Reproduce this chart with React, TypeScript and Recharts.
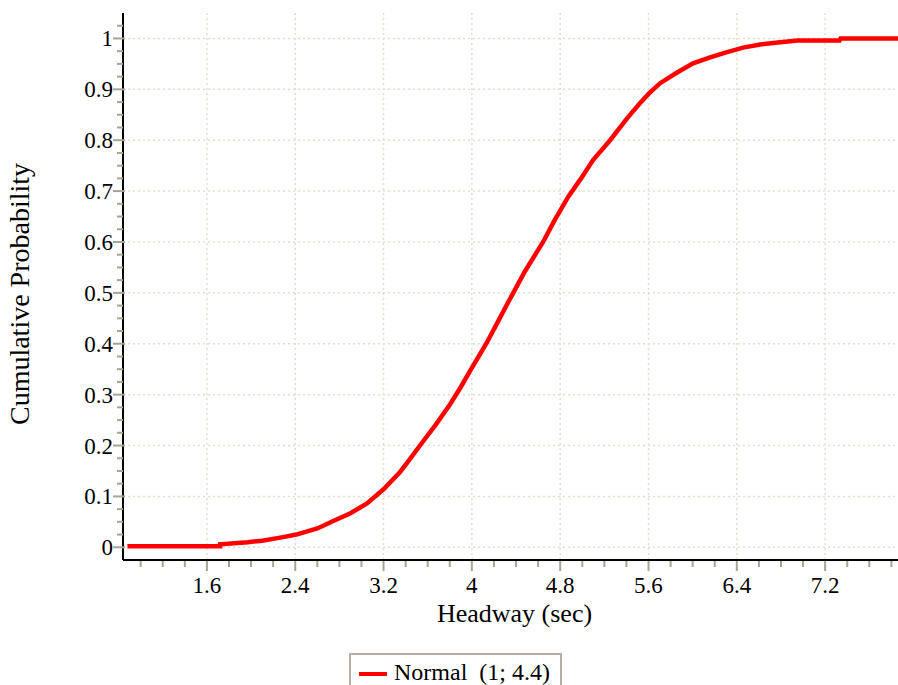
import { LineChart, Line, XAxis, YAxis, ReferenceLine, Legend, Label } from 'recharts';

const headway = [0.88, 1.72, 1.72, 1.97, 2.1, 2.29, 2.41, 2.6, 2.74, 2.9, 3.05, 3.2, 3.35, 3.42, 3.53, 3.67, 3.8, 3.9, 3.98, 4.13, 4.24, 4.33, 4.38, 4.48, 4.645, 4.75, 4.871, 4.98, 5.098, 5.252, 5.406, 5.524, 5.605, 5.705, 5.859, 6.004, 6.158, 6.312, 6.457, 6.611, 6.77, 6.95, 7.33, 7.34, 7.86];
const cumProb = [0.002, 0.002, 0.006, 0.01, 0.013, 0.02, 0.025, 0.037, 0.051, 0.067, 0.086, 0.114, 0.148, 0.168, 0.2, 0.24, 0.28, 0.315, 0.345, 0.4, 0.445, 0.482, 0.502, 0.542, 0.6, 0.643, 0.688, 0.722, 0.761, 0.8, 0.843, 0.873, 0.892, 0.912, 0.933, 0.951, 0.963, 0.973, 0.982, 0.988, 0.992, 0.996, 0.996, 1.0, 1.0];

const xMajor = [1.6, 2.4, 3.2, 4, 4.8, 5.6, 6.4, 7.2];
const xMinor = [1.0, 1.2, 1.4, 1.8, 2.0, 2.2, 2.6, 2.8, 3.0, 3.4, 3.6, 3.8, 4.2, 4.4, 4.6, 5.0, 5.2, 5.4, 5.8, 6.0, 6.2, 6.6, 6.8, 7.0, 7.4, 7.6, 7.8];
const yMajor = [0, 0.1, 0.2, 0.3, 0.4, 0.5, 0.6, 0.7, 0.8, 0.9, 1];
const yMinor = yMajor.flatMap((m) => [m + 0.025, m + 0.05, m + 0.075]).filter((v) => v < 1.04);

const seriesName = 'Normal  (1; 4.4)';

const data = headway.map((x, i) => ({ x, p: cumProb[i] }));

const FONT = '"Liberation Serif", "Times New Roman", serif';
const TICK_GRAY = '#a8a494';
const GRID = '#e2dece';

const isMajor = (list: number[], v: number) => list.some((m) => Math.abs(m - v) < 1e-6);

const XTick = (props: any) => {
  const { x, y, payload } = props;
  const major = isMajor(xMajor, payload.value);
  return (
    <g>
      <line x1={x} x2={x} y1={y + 1} y2={y + (major ? 11 : 7)} stroke={TICK_GRAY} strokeWidth={2} />
      {major && (
        <text x={x} y={y + 33} textAnchor="middle" fontSize={23} fontFamily={FONT} fill="#000">
          {String(payload.value)}
        </text>
      )}
    </g>
  );
};

const YTick = (props: any) => {
  const { x, y, payload } = props;
  const major = isMajor(yMajor, payload.value);
  return (
    <g>
      <line x1={x - (major ? 10 : 6)} x2={x + (major ? 2 : 0)} y1={y} y2={y} stroke={TICK_GRAY} strokeWidth={2} />
      {major && (
        <text x={x - 10} y={y + 8} textAnchor="end" fontSize={23} fontFamily={FONT} fill="#000">
          {String(Math.round(payload.value * 10) / 10)}
        </text>
      )}
    </g>
  );
};

const LegendBox = () => (
  <div
    style={{
      border: '2px solid #b4b0a4',
      background: '#fff',
      height: 40,
      boxSizing: 'border-box',
      display: 'flex',
      alignItems: 'flex-start',
      paddingLeft: 8,
      paddingTop: 4,
      fontFamily: FONT,
      fontSize: 24,
      whiteSpace: 'pre',
    }}
  >
    <span style={{ display: 'inline-block', width: 28, height: 4, background: '#ff0000', marginTop: 13, marginRight: 7 }} />
    <span>{seriesName}</span>
  </div>
);

export default function App() {
  return (
    <div style={{ position: 'absolute', left: 0, top: 0 }}>
      <LineChart width={898} height={685} data={data} margin={{ top: 13, right: 0, left: 0, bottom: 65 }}>
        <XAxis
          type="number"
          dataKey="x"
          domain={[0.84, 7.86]}
          ticks={[...xMajor, ...xMinor].sort((a, b) => a - b)}
          interval={0}
          tickSize={0}
          tickMargin={0}
          tickLine={false}
          tick={<XTick />}
          height={60}
          axisLine={{ stroke: '#000', strokeWidth: 2 }}
          allowDataOverflow
        >
          <Label
            content={({ viewBox }: any) => (
              <text x={viewBox.x + viewBox.width / 2 + 4} y={viewBox.y + 62} textAnchor="middle" fontSize={26} fontFamily={FONT} fill="#000">
                Headway (sec)
              </text>
            )}
          />
        </XAxis>
        <XAxis
          xAxisId="top"
          orientation="top"
          type="number"
          dataKey="x"
          domain={[0.84, 7.86]}
          height={0}
          tick={false}
          tickLine={false}
          axisLine={{ stroke: '#000', strokeWidth: 2 }}
        />
        <YAxis
          type="number"
          domain={[-0.025, 1.05]}
          ticks={[...yMajor, ...yMinor].sort((a, b) => a - b)}
          interval={0}
          tickSize={0}
          tickMargin={0}
          tickLine={false}
          tick={<YTick />}
          width={123}
          axisLine={{ stroke: '#000', strokeWidth: 2 }}
          allowDataOverflow
        >
          <Label
            content={() => (
              <text x={29} y={294} transform="rotate(-90 29 294)" textAnchor="middle" fontSize={28} fontFamily={FONT} fill="#000">
                Cumulative Probability
              </text>
            )}
          />
        </YAxis>
        {xMajor.map((v) => (
          <ReferenceLine key={'gx' + v} x={v} stroke={GRID} strokeDasharray="2 3" strokeWidth={1.5} />
        ))}
        {yMajor.map((v) => (
          <ReferenceLine key={'gy' + v} y={v} stroke={GRID} strokeDasharray="2 3" strokeWidth={1.5} />
        ))}
        <Legend
          layout="horizontal"
          verticalAlign="middle"
          align="center"
          wrapperStyle={{ left: 349, top: 653, width: 213 }}
          content={() => <LegendBox />}
        />
        <Line
          dataKey="p"
          name={seriesName}
          type="linear"
          stroke="#ff0000"
          strokeWidth={4.5}
          dot={false}
          isAnimationActive={false}
        />
      </LineChart>
    </div>
  );
}
